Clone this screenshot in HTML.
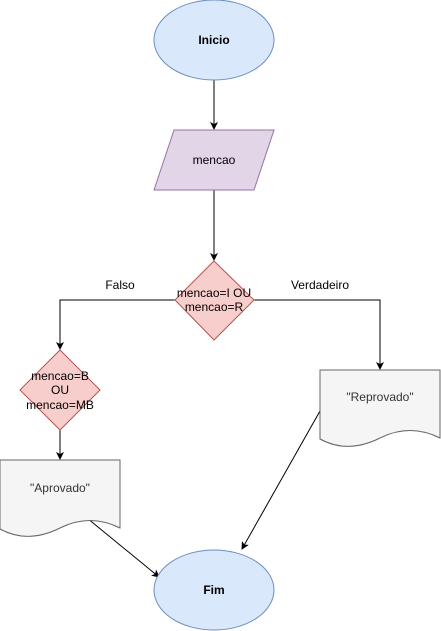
<!DOCTYPE html>
<html><head><meta charset="utf-8"><style>
html,body{margin:0;padding:0;background:#fff;}
svg{display:block;}
text{font-family:"Liberation Sans",Arial,sans-serif;font-size:12px;fill:#000;}
</style></head><body>
<svg width="441" height="631" viewBox="0 0 441 631" xmlns="http://www.w3.org/2000/svg">
<defs>
<marker id="a" markerWidth="8" markerHeight="8" refX="7" refY="4" orient="auto" markerUnits="userSpaceOnUse">
<path d="M0,0 L8,4 L0,8 L2,4 Z" fill="#000"/>
</marker>
</defs>
<!-- connectors -->
<g stroke="#000" stroke-width="1" fill="none">
<line x1="214" y1="80" x2="214" y2="129" marker-end="url(#a)"/>
<line x1="214" y1="190" x2="214" y2="260" marker-end="url(#a)"/>
<polyline points="175,300 60,300 60,349" marker-end="url(#a)"/>
<polyline points="254,300 380,300 380,369" marker-end="url(#a)"/>
<line x1="60" y1="430" x2="60" y2="459" marker-end="url(#a)"/>
<line x1="320" y1="411" x2="242" y2="549" marker-end="url(#a)"/>
<line x1="87" y1="518" x2="159" y2="577" marker-end="url(#a)"/>
</g>
<!-- Inicio -->
<ellipse cx="214" cy="40" rx="60" ry="40" fill="#dae8fc" stroke="#6c8ebf"/>
<text x="214" y="44" text-anchor="middle" font-weight="bold">Inicio</text>
<!-- mencao parallelogram -->
<polygon points="174,130 274,130 254,190 154,190" fill="#e1d5e7" stroke="#9673a6"/>
<text x="214" y="164" text-anchor="middle">mencao</text>
<!-- big diamond -->
<polygon points="214,261 254,300 214,340 175,300" fill="#f8cecc" stroke="#b85450"/>
<text x="214" y="297" text-anchor="middle">mencao=I OU</text>
<text x="214" y="311" text-anchor="middle">mencao=R</text>
<text x="120" y="289" text-anchor="middle">Falso</text>
<text x="320" y="289" text-anchor="middle">Verdadeiro</text>
<!-- small diamond -->
<polygon points="60,350 100,390 60,430 20,390" fill="#f8cecc" stroke="#b85450"/>
<text x="60" y="380" text-anchor="middle">mencao=B</text>
<text x="60" y="394" text-anchor="middle">OU</text>
<text x="60" y="409" text-anchor="middle">mencao=MB</text>
<!-- Reprovado doc -->
<path d="M320,370 H440 V438 C420,428 400,428 380,438 C360,448 340,450 320,439 Z" fill="#f5f5f5" stroke="#666"/>
<text x="380" y="401" text-anchor="middle" fill="#333" style="fill:#333">"Reprovado"</text>
<!-- Aprovado doc -->
<path d="M0,460 H120 V528 C100,518 80,518 60,528 C40,538 20,540 0,529 Z" fill="#f5f5f5" stroke="#666"/>
<text x="60" y="492" text-anchor="middle" style="fill:#333">"Aprovado"</text>
<!-- Fim -->
<ellipse cx="214" cy="590" rx="60" ry="40" fill="#dae8fc" stroke="#6c8ebf"/>
<text x="214" y="594" text-anchor="middle" font-weight="bold">Fim</text>
</svg>
</body></html>
